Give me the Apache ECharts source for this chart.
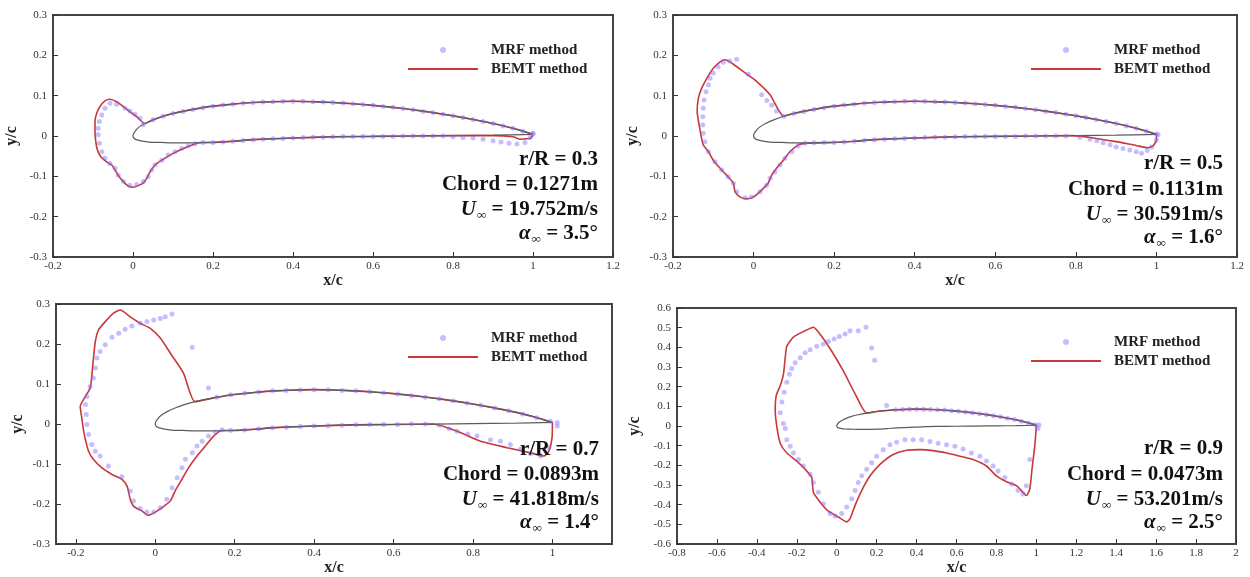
<!DOCTYPE html>
<html>
<head>
<meta charset="utf-8">
<script src="https://cdn.jsdelivr.net/npm/echarts@6/dist/echarts.min.js"></script>
<style>
  html, body { margin: 0; background: #fff; }
  #chart { width: 1250px; height: 577px; }
</style>
</head>
<body>
<div id="chart"></div>
<script>
// ---- shared airfoil geometry (x/c, y/c) ----
// suction side, trailing edge -> near leading edge
const upperSurf = [[1,0.004],[0.95,0.019],[0.9,0.031],[0.85,0.041],[0.8,0.05],[0.75,0.058],[0.7,0.065],[0.65,0.071],[0.6,0.076],[0.55,0.08],[0.5,0.083],[0.45,0.085],[0.4,0.086],[0.35,0.085],[0.3,0.083],[0.25,0.079],[0.2,0.074],[0.15,0.066],[0.1,0.056],[0.075,0.049],[0.05,0.04],[0.03,0.031]]
// nose + pressure side back to trailing edge
const noseLower = [[0.015,0.022],[0.006,0.013],[0.001,0.005],[0,0],[0.002,-0.005],[0.008,-0.009],[0.02,-0.012],[0.04,-0.015],[0.07,-0.016],[0.1,-0.017],[0.15,-0.017],[0.2,-0.016],[0.25,-0.013],[0.3,-0.009],[0.4,-0.005],[0.5,-0.002],[0.6,-0.001],[0.7,0],[0.8,0.001],[0.9,0.002],[1,0.004]]
const lowerSurf = [[0.15,-0.017],[0.2,-0.016],[0.25,-0.013],[0.3,-0.009],[0.4,-0.005],[0.5,-0.002],[0.6,-0.001],[0.7,0]]

// MRF points lying on the blade surface
const upperDots = [[0.025,0.028],[0.05,0.04],[0.075,0.049],[0.1,0.056],[0.125,0.061],[0.15,0.066],[0.175,0.07],[0.2,0.074],[0.225,0.077],[0.25,0.079],[0.275,0.081],[0.3,0.083],[0.325,0.084],[0.35,0.085],[0.375,0.086],[0.4,0.086],[0.425,0.086],[0.45,0.085],[0.475,0.084],[0.5,0.083],[0.525,0.082],[0.55,0.08],[0.575,0.078],[0.6,0.076],[0.625,0.073],[0.65,0.071],[0.675,0.068],[0.7,0.065],[0.725,0.061],[0.75,0.058],[0.775,0.054],[0.8,0.05],[0.825,0.046],[0.85,0.041],[0.875,0.036],[0.9,0.031],[0.925,0.025],[0.95,0.019],[0.975,0.012],[1,0.005]]
const lowerDots = [[0.15,-0.017],[0.175,-0.016],[0.2,-0.016],[0.225,-0.015],[0.25,-0.013],[0.275,-0.011],[0.3,-0.009],[0.325,-0.008],[0.35,-0.007],[0.375,-0.006],[0.4,-0.005],[0.425,-0.004],[0.45,-0.003],[0.475,-0.003],[0.5,-0.002],[0.525,-0.001],[0.55,-0.001],[0.575,-0.001],[0.6,-0.001],[0.625,-0.001],[0.65,-0.001],[0.675,0],[0.7,0],[0.725,0],[0.75,0],[0.775,0]]
const upperDotsWide = [[0.155,0.067],[0.19,0.073],[0.225,0.077],[0.26,0.08],[0.295,0.083],[0.33,0.084],[0.365,0.085],[0.4,0.086],[0.435,0.086],[0.47,0.084],[0.505,0.083],[0.54,0.081],[0.575,0.078],[0.61,0.075],[0.645,0.071],[0.68,0.067],[0.715,0.063],[0.75,0.058],[0.785,0.052],[0.82,0.047],[0.855,0.04],[0.89,0.033],[0.925,0.025],[0.96,0.016],[0.995,0.007]]
const lowerDotsWide = [[0.19,-0.016],[0.225,-0.015],[0.26,-0.012],[0.295,-0.009],[0.33,-0.008],[0.365,-0.006],[0.4,-0.005],[0.435,-0.004],[0.47,-0.003],[0.505,-0.002],[0.54,-0.001],[0.575,-0.001],[0.61,-0.001],[0.645,0],[0.68,0],[0.715,-0.003],[0.74,-0.012]]

// ---- r/R = 0.3 ----
const bemtLoop03 = [[0.009,0.048],[-0.0075,0.06],[-0.024,0.073],[-0.041,0.085],[-0.0575,0.091],[-0.07,0.087],[-0.0825,0.073],[-0.091,0.056],[-0.095,0.036],[-0.095,0.011],[-0.093,-0.014],[-0.089,-0.035],[-0.081,-0.051],[-0.066,-0.064],[-0.053,-0.072],[-0.045,-0.084],[-0.037,-0.098],[-0.024,-0.113],[-0.012,-0.124],[0.001,-0.127],[0.013,-0.123],[0.026,-0.116],[0.034,-0.105],[0.0425,-0.089],[0.055,-0.072],[0.072,-0.06],[0.097,-0.045],[0.126,-0.031],[0.151,-0.021],[0.168,-0.016]]
const bemtTail03 = [[0.8,0.001],[0.9,0.001],[0.95,-0.002],[0.968,-0.008],[0.985,-0.007],[0.993,-0.006],[1,0.001]]
const mrfLoop03 = [[0.0175,0.044],[0.005,0.054],[-0.008,0.062],[-0.02,0.069],[-0.041,0.079],[-0.0575,0.081],[-0.07,0.069],[-0.078,0.052],[-0.084,0.036],[-0.087,0.019],[-0.087,0.003],[-0.084,-0.018],[-0.078,-0.039],[-0.07,-0.055],[-0.058,-0.068],[-0.045,-0.08],[-0.037,-0.097],[-0.024,-0.113],[-0.008,-0.122],[0.009,-0.12],[0.026,-0.113],[0.038,-0.101],[0.047,-0.084],[0.055,-0.072],[0.072,-0.06],[0.088,-0.047],[0.105,-0.039],[0.122,-0.031],[0.138,-0.024],[0.155,-0.019]]
const mrfTail03 = [[0.8,-0.002],[0.825,-0.004],[0.85,-0.005],[0.875,-0.008],[0.9,-0.012],[0.92,-0.015],[0.94,-0.018],[0.96,-0.02],[0.98,-0.016],[0.993,-0.004],[1,0.007]]

// ---- r/R = 0.5 ----
const bemtLoop05 = [[0.041,0.102],[0.008,0.135],[-0.026,0.16],[-0.05,0.178],[-0.071,0.189],[-0.083,0.184],[-0.1,0.168],[-0.116,0.143],[-0.129,0.118],[-0.137,0.094],[-0.14,0.06],[-0.135,0.027],[-0.129,-0.006],[-0.125,-0.022],[-0.112,-0.039],[-0.1,-0.06],[-0.083,-0.08],[-0.067,-0.097],[-0.05,-0.117],[-0.046,-0.138],[-0.034,-0.151],[-0.017,-0.156],[0,-0.151],[0.02,-0.134],[0.036,-0.117],[0.045,-0.097],[0.057,-0.08],[0.074,-0.06],[0.09,-0.039],[0.111,-0.022],[0.123,-0.019]]
const bemtTail05 = [[0.793,0.001],[0.851,-0.006],[0.9,-0.014],[0.951,-0.024],[0.979,-0.029],[0.992,-0.024],[1,-0.01],[1,0.004]]
const mrfLoop05 = [[0.057,0.062],[0.045,0.076],[0.033,0.088],[0.02,0.102],[-0.013,0.153],[-0.042,0.19],[-0.059,0.186],[-0.075,0.183],[-0.088,0.172],[-0.1,0.156],[-0.108,0.143],[-0.112,0.127],[-0.118,0.11],[-0.123,0.089],[-0.125,0.069],[-0.126,0.048],[-0.126,0.027],[-0.125,0.007],[-0.121,-0.014],[-0.112,-0.039],[-0.096,-0.064],[-0.079,-0.084],[-0.063,-0.101],[-0.05,-0.117],[-0.042,-0.138],[-0.021,-0.153],[-0.005,-0.151],[0.016,-0.138],[0.032,-0.122],[0.041,-0.105],[0.053,-0.089],[0.066,-0.072],[0.078,-0.055],[0.095,-0.039],[0.111,-0.025],[0.128,-0.018]]
const mrfTail05 = [[0.81,-0.003],[0.835,-0.008],[0.852,-0.012],[0.868,-0.017],[0.885,-0.022],[0.9,-0.027],[0.917,-0.031],[0.934,-0.035],[0.95,-0.039],[0.963,-0.043],[0.977,-0.036],[0.988,-0.027],[1,-0.01],[1.004,0.003]]

// ---- r/R = 0.7 ----
const bemtLoop07 = [[0.071,0.127],[0.038,0.177],[0.0126,0.215],[-0.0126,0.239],[-0.038,0.252],[-0.063,0.268],[-0.088,0.285],[-0.105,0.277],[-0.126,0.256],[-0.143,0.235],[-0.151,0.206],[-0.156,0.161],[-0.16,0.119],[-0.164,0.09],[-0.176,0.069],[-0.189,0.044],[-0.185,0.015],[-0.181,-0.014],[-0.176,-0.039],[-0.168,-0.068],[-0.156,-0.088],[-0.135,-0.109],[-0.109,-0.126],[-0.084,-0.138],[-0.071,-0.155],[-0.063,-0.188],[-0.055,-0.205],[-0.034,-0.217],[-0.017,-0.228],[0,-0.22],[0.017,-0.209],[0.038,-0.192],[0.05,-0.167],[0.067,-0.138],[0.084,-0.109],[0.105,-0.08],[0.126,-0.055],[0.147,-0.03],[0.168,-0.016]]
const bemtTail07 = [[0.76,-0.018],[0.819,-0.043],[0.886,-0.059],[0.945,-0.072],[0.978,-0.08],[0.991,-0.068],[0.999,-0.034],[1,0.004]]
const mrfLoop07 = [[0.134,0.09],[0.093,0.192],[0.042,0.275],[0.025,0.268],[0.0126,0.264],[-0.004,0.26],[-0.021,0.256],[-0.038,0.252],[-0.059,0.245],[-0.076,0.237],[-0.092,0.227],[-0.109,0.217],[-0.126,0.198],[-0.139,0.181],[-0.147,0.165],[-0.151,0.14],[-0.156,0.115],[-0.164,0.094],[-0.172,0.069],[-0.176,0.049],[-0.174,0.024],[-0.172,-0.001],[-0.168,-0.026],[-0.16,-0.051],[-0.151,-0.068],[-0.139,-0.08],[-0.118,-0.105],[-0.084,-0.132],[-0.063,-0.167],[-0.055,-0.192],[-0.038,-0.211],[-0.021,-0.22],[-0.004,-0.22],[0.0126,-0.209],[0.029,-0.188],[0.042,-0.159],[0.055,-0.134],[0.067,-0.109],[0.076,-0.088],[0.093,-0.072],[0.105,-0.055],[0.118,-0.043],[0.134,-0.03],[0.151,-0.02],[0.168,-0.014]]
const mrfTail07 = [[0.76,-0.018],[0.787,-0.025],[0.81,-0.03],[0.844,-0.039],[0.869,-0.043],[0.894,-0.051],[0.919,-0.063],[0.945,-0.074],[0.97,-0.08],[0.991,-0.059],[1.012,-0.005],[1.012,0.004]]

// ---- r/R = 0.9 ----
const bemtLoop09 = [[0.092,0.164],[0.033,0.28],[-0.025,0.38],[-0.075,0.455],[-0.117,0.502],[-0.167,0.48],[-0.217,0.452],[-0.25,0.405],[-0.258,0.347],[-0.267,0.263],[-0.283,0.205],[-0.303,0.155],[-0.308,0.08],[-0.3,-0.003],[-0.283,-0.087],[-0.25,-0.137],[-0.2,-0.178],[-0.158,-0.22],[-0.125,-0.262],[-0.117,-0.337],[-0.083,-0.387],[-0.042,-0.433],[0.008,-0.462],[0.05,-0.487],[0.067,-0.47],[0.092,-0.403],[0.125,-0.328],[0.167,-0.253],[0.217,-0.195],[0.283,-0.145],[0.35,-0.123],[0.417,-0.12],[0.483,-0.125],[0.55,-0.137],[0.617,-0.153],[0.683,-0.17],[0.75,-0.203],[0.8,-0.253],[0.85,-0.283],[0.9,-0.303],[0.933,-0.337],[0.95,-0.353],[0.967,-0.32],[0.98,-0.203],[0.992,-0.103],[1,0.004]]
const mrfLoop09 = [[0.25,0.105],[0.19,0.335],[0.175,0.397],[0.147,0.502],[0.108,0.484],[0.067,0.485],[0.042,0.468],[0.013,0.455],[-0.013,0.443],[-0.042,0.43],[-0.067,0.417],[-0.1,0.405],[-0.133,0.388],[-0.158,0.372],[-0.183,0.347],[-0.208,0.322],[-0.225,0.293],[-0.237,0.263],[-0.25,0.222],[-0.263,0.172],[-0.275,0.122],[-0.283,0.067],[-0.267,0.013],[-0.258,-0.012],[-0.25,-0.07],[-0.233,-0.103],[-0.217,-0.137],[-0.192,-0.17],[-0.167,-0.203],[-0.133,-0.245],[-0.117,-0.287],[-0.092,-0.337],[-0.067,-0.395],[-0.033,-0.445],[-0.008,-0.457],[0.025,-0.445],[0.05,-0.412],[0.075,-0.37],[0.092,-0.328],[0.108,-0.287],[0.125,-0.253],[0.15,-0.22],[0.175,-0.187],[0.2,-0.153],[0.233,-0.12],[0.267,-0.095],[0.3,-0.082],[0.342,-0.07],[0.383,-0.07],[0.425,-0.07],[0.467,-0.078],[0.508,-0.087],[0.55,-0.095],[0.592,-0.103],[0.633,-0.117],[0.675,-0.137],[0.717,-0.153],[0.75,-0.178],[0.783,-0.203],[0.808,-0.228],[0.842,-0.262],[0.875,-0.295],[0.908,-0.328],[0.933,-0.345],[0.95,-0.303],[0.967,-0.17],[1.008,-0.012],[1.013,0.005]]

// ---- tick labels / case labels ----
const xTicks07 = [-0.2, 0, 0.2, 0.4, 0.6, 0.8, 1]
const caseRR = ['0.3', '0.5', '0.7', '0.9']
const caseChord = ['0.1271m', '0.1131m', '0.0893m', '0.0473m']
const caseU = ['19.752m/s', '30.591m/s', '41.818m/s', '53.201m/s']
const caseAlpha = ['3.5°', '1.6°', '1.4°', '2.5°']

const airfoil = upperSurf.concat(noseLower)
const bemtSets = [
  upperSurf.filter(p => p[0] >= 0.03).concat(bemtLoop03, lowerSurf.filter(p => p[0] > 0.17), bemtTail03),
  upperSurf.filter(p => p[0] >= 0.075).concat(bemtLoop05, lowerSurf, bemtTail05),
  upperSurf.filter(p => p[0] >= 0.1).concat(bemtLoop07, lowerSurf.filter(p => p[0] > 0.17), bemtTail07),
  upperSurf.filter(p => p[0] >= 0.15).concat(bemtLoop09)
]
const mrfSets = [
  mrfLoop03.concat(upperDots, lowerDots.filter(p => p[0] >= 0.175), mrfTail03),
  mrfLoop05.concat(upperDots.filter(p => p[0] >= 0.075), lowerDots, mrfTail05),
  mrfLoop07.concat(upperDotsWide, lowerDotsWide, mrfTail07),
  mrfLoop09.concat(upperDotsWide.filter(p => p[0] >= 0.27))
]

const serif = '"Liberation Serif", "DejaVu Serif", serif'
const red = '#c8383b'
const dotColor = 'rgba(125, 105, 255, 0.55)'

const panels = [
  { grid: { left: 53, top: 15, width: 560, height: 242 }, x: { min: -0.2, max: 1.2, interval: 0.2 }, y: { min: -0.3, max: 0.3, interval: 0.1 },
    xGap: 13, yGap: 33, legend: { left: 407, top: 42 }, infoX: 598, infoY: [160, 185, 210, 234] },
  { grid: { left: 673, top: 15, width: 564, height: 242 }, x: { min: -0.2, max: 1.2, interval: 0.2 }, y: { min: -0.3, max: 0.3, interval: 0.1 },
    xGap: 13, yGap: 32, legend: { left: 1030, top: 42 }, infoX: 1223, infoY: [164, 190, 215, 238] },
  { grid: { left: 56, top: 304, width: 556, height: 241 }, x: { min: -0.25, max: 1.15, custom: xTicks07 }, y: { min: -0.3, max: 0.3, interval: 0.1 },
    xGap: 9, yGap: 30, legend: { left: 407, top: 330 }, infoX: 599, infoY: [450, 475, 500, 523] },
  { grid: { left: 677, top: 308, width: 559, height: 239 }, x: { min: -0.8, max: 2, interval: 0.2 }, y: { min: -0.6, max: 0.6, interval: 0.1 },
    xGap: 11, yGap: 34, legend: { left: 1030, top: 334 }, infoX: 1223, infoY: [449, 475, 500, 523] }
]

const axisCommon = {
  type: 'value',
  splitLine: { show: false },
  axisLine: { onZero: false, lineStyle: { color: '#444', width: 2 } },
  axisTick: { inside: true, length: 5, lineStyle: { color: '#333', width: 1 } },
  axisLabel: { color: '#333', fontFamily: serif, fontSize: 11 },
  nameLocation: 'middle',
  nameTextStyle: { fontFamily: serif, fontWeight: 'bold', fontSize: 16, color: '#222' }
}

const grid = [], xAxis = [], yAxis = [], legend = [], series = [], graphic = []

panels.forEach((p, i) => {
  grid.push(Object.assign({ show: true, borderColor: '#444', borderWidth: 2, backgroundColor: 'transparent' }, p.grid))

  const xa = Object.assign({}, axisCommon, {
    gridIndex: i, min: p.x.min, max: p.x.max, name: 'x/c', nameGap: p.xGap,
    axisLabel: Object.assign({}, axisCommon.axisLabel, { margin: 4 })
  })
  if (p.x.custom) {
    xa.axisLabel.customValues = p.x.custom
    xa.axisTick = Object.assign({}, axisCommon.axisTick, { customValues: p.x.custom })
  } else {
    xa.interval = p.x.interval
  }
  xAxis.push(xa)

  yAxis.push(Object.assign({}, axisCommon, {
    gridIndex: i, min: p.y.min, max: p.y.max, interval: p.y.interval, name: 'y/c', nameGap: p.yGap,
    axisLabel: Object.assign({}, axisCommon.axisLabel, { margin: 6 })
  }))

  legend.push({
    left: p.legend.left, top: p.legend.top, orient: 'vertical', padding: 0,
    itemWidth: 70, itemHeight: 6, itemGap: 3, selectedMode: false,
    data: ['MRF method', { name: 'BEMT method', itemStyle: { opacity: 0 } }],
    textStyle: { fontFamily: serif, fontWeight: 'bold', fontSize: 15, color: '#222', lineHeight: 16, padding: [0, 0, 0, 8] }
  })

  series.push({
    type: 'line', name: 'BEMT method', xAxisIndex: i, yAxisIndex: i,
    data: bemtSets[i], symbol: 'none', smooth: 0.2,
    lineStyle: { color: red, width: 1.6 }, itemStyle: { color: red }, z: 2
  })
  series.push({
    type: 'line', name: 'airfoil', xAxisIndex: i, yAxisIndex: i,
    data: airfoil, symbol: 'none', smooth: 0.3, silent: true,
    lineStyle: { color: '#5c5c5c', width: 1.2 }, z: 3
  })
  series.push({
    type: 'scatter', name: 'MRF method', xAxisIndex: i, yAxisIndex: i,
    data: mrfSets[i], symbol: 'circle', symbolSize: 5,
    itemStyle: { color: dotColor }, z: 4
  })

  const lines = [
    'r/R = ' + caseRR[i],
    'Chord = ' + caseChord[i],
    '{i|U}{s|∞} = ' + caseU[i],
    '{i|α}{s|∞} = ' + caseAlpha[i]
  ]
  lines.forEach((t, k) => {
    graphic.push({
      type: 'text', x: p.infoX, y: p.infoY[k], z: 100,
      style: {
        text: t, fill: '#111', textAlign: 'right', textVerticalAlign: 'middle',
        font: 'bold 21px ' + serif, lineHeight: 24,
        rich: {
          i: { fontFamily: serif, fontWeight: 'bold', fontStyle: 'italic', fontSize: 21, lineHeight: 24 },
          s: { fontFamily: serif, fontWeight: 'bold', fontSize: 13, verticalAlign: 'bottom', lineHeight: 24, padding: [6, 0, 0, 1] }
        }
      }
    })
  })
})

const chart = echarts.init(document.getElementById('chart'))
chart.setOption({
  animation: false,
  backgroundColor: '#fff',
  grid, xAxis, yAxis, legend, series, graphic
})
</script>
</body>
</html>
